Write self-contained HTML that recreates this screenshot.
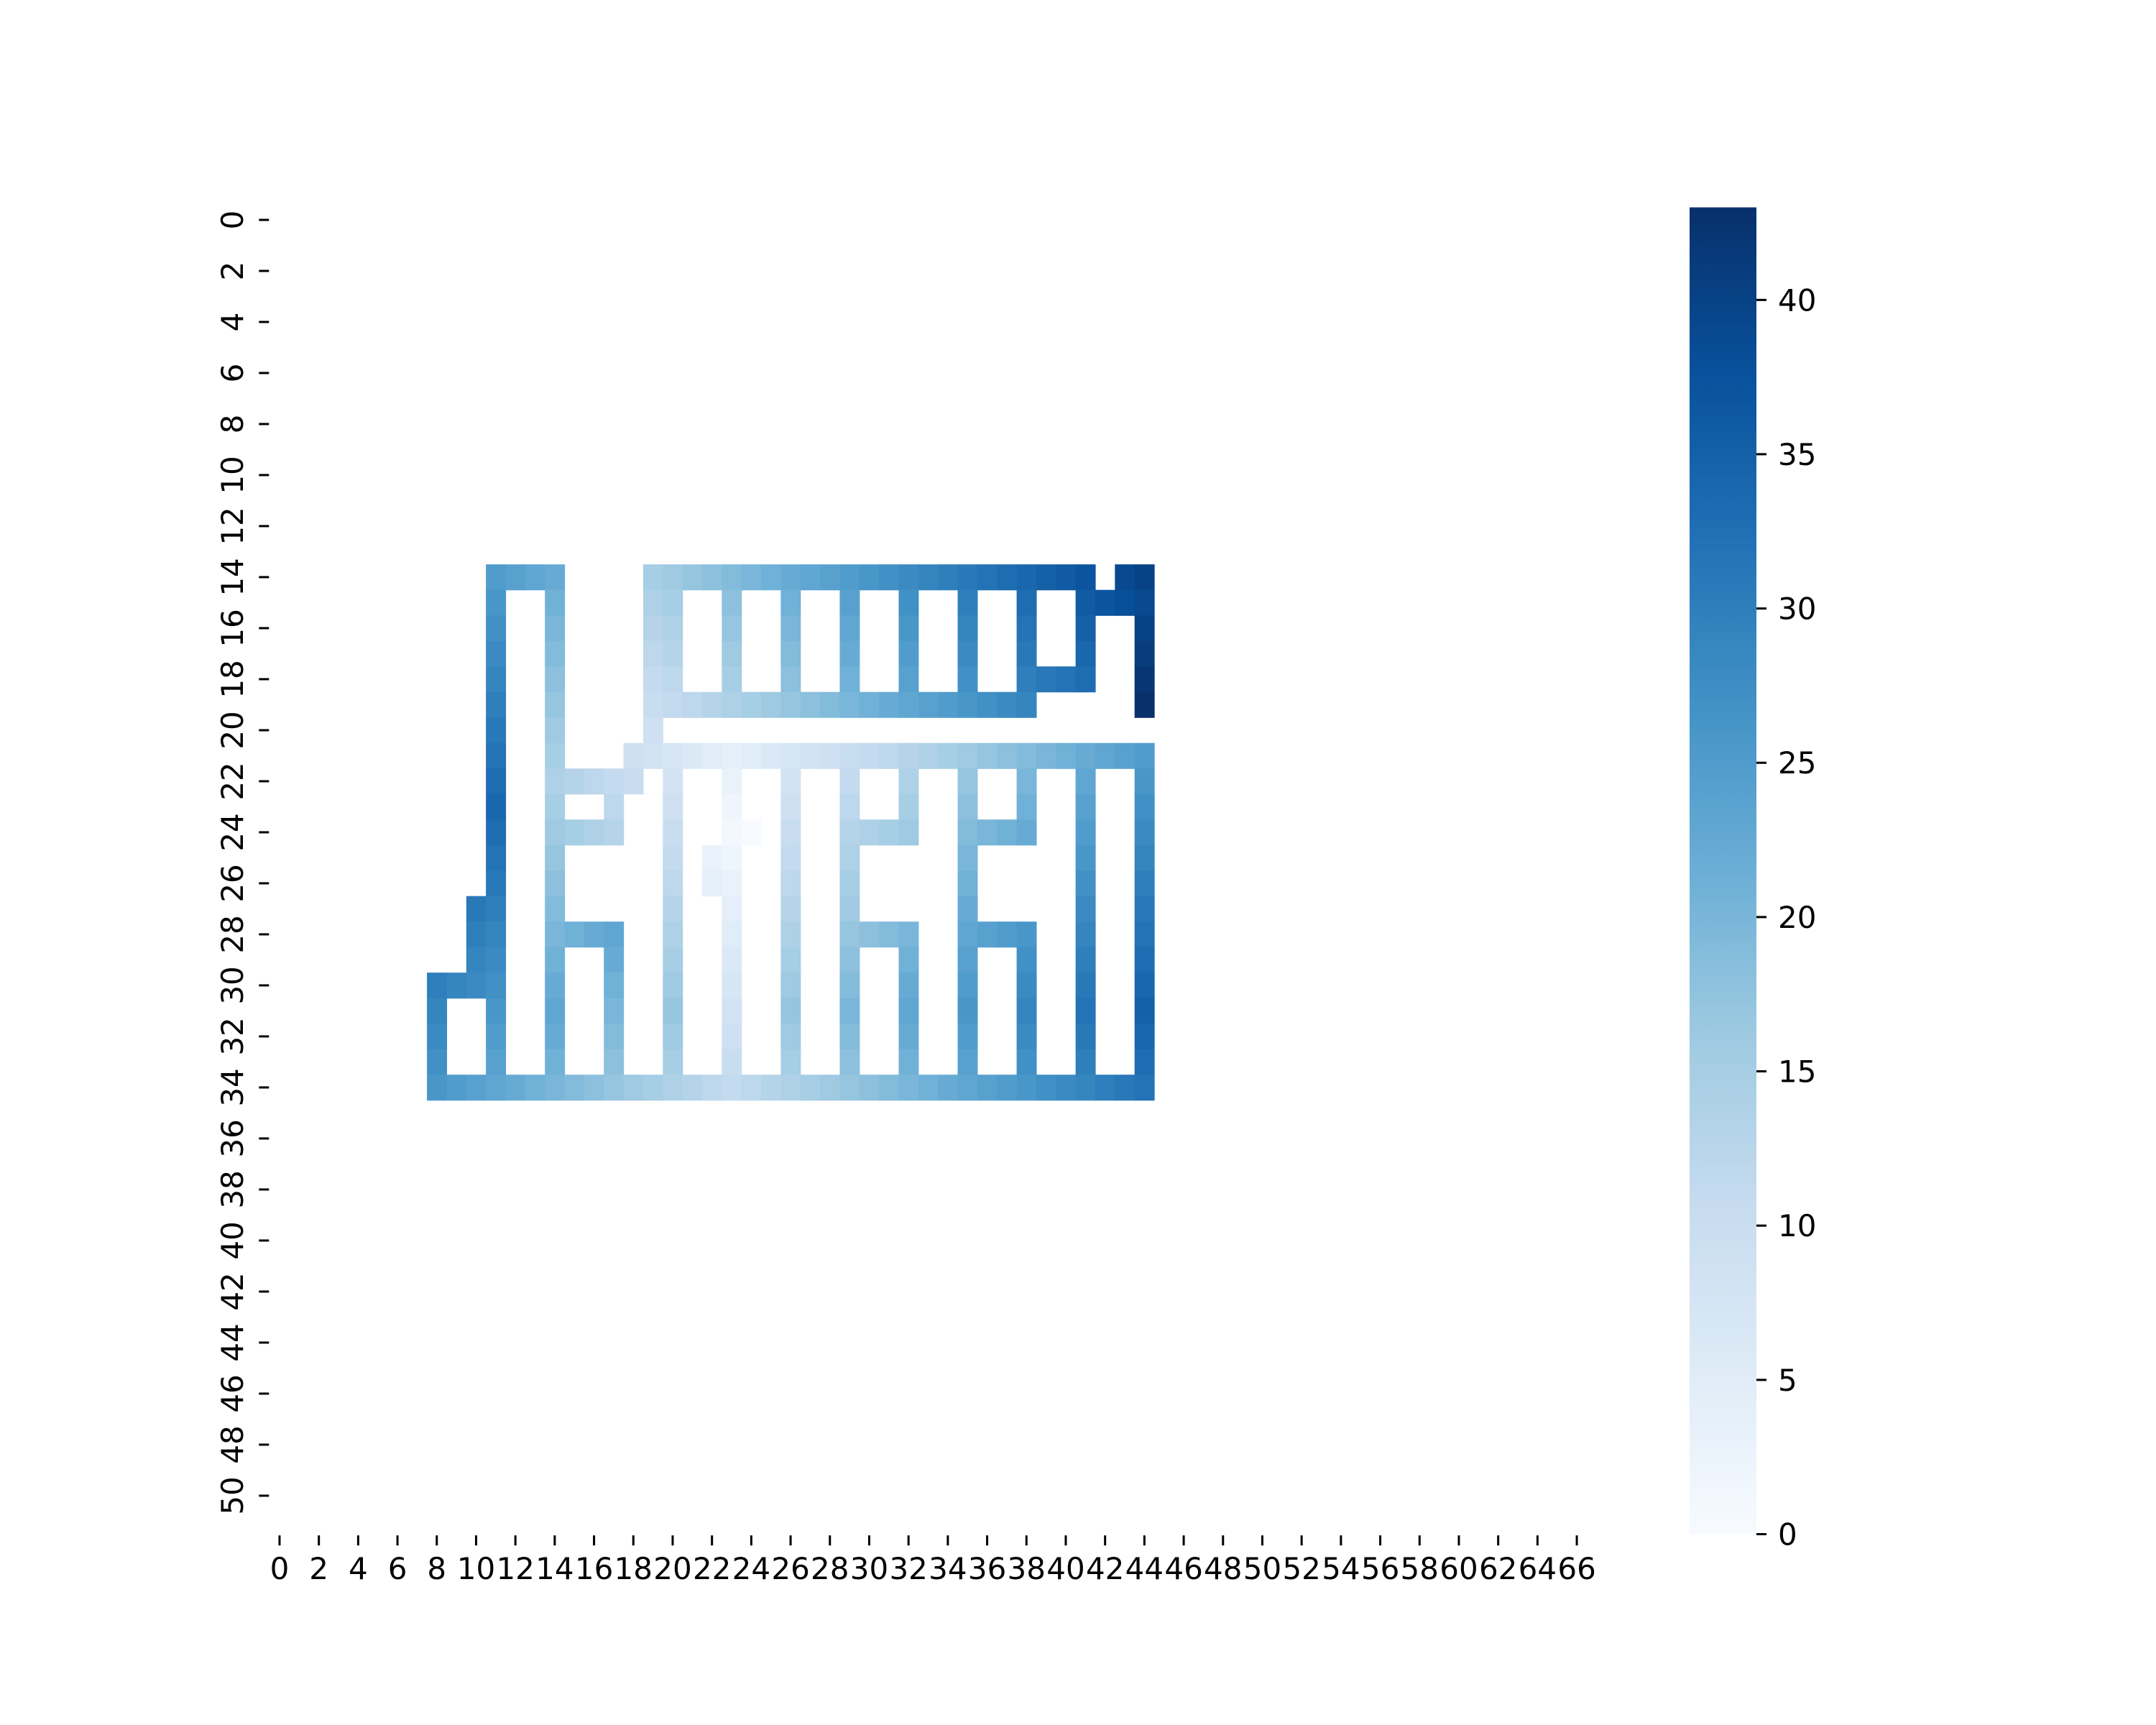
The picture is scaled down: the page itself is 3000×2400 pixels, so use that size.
<!DOCTYPE html>
<html>
<head>
<meta charset="utf-8">
<style>
  html,body{margin:0;padding:0;background:#fff;}
  svg{display:block;}
  text{font-family:"DejaVu Sans","Liberation Sans",sans-serif;font-size:42px;fill:#000;}
</style>
</head>
<body>
<svg id="chart" width="3000" height="2400" viewBox="0 0 3000 2400" xmlns="http://www.w3.org/2000/svg">
  <g id="cells"></g>
  <g id="xaxis"></g>
  <g id="yaxis"></g>
  <defs>
    <linearGradient id="cbgrad" x1="0" y1="1" x2="0" y2="0">
      <stop offset="0" stop-color="#f7fbff"/>
      <stop offset="0.125" stop-color="#deebf7"/>
      <stop offset="0.25" stop-color="#c6dbef"/>
      <stop offset="0.375" stop-color="#9ecae1"/>
      <stop offset="0.5" stop-color="#6baed6"/>
      <stop offset="0.625" stop-color="#4292c6"/>
      <stop offset="0.75" stop-color="#2171b5"/>
      <stop offset="0.875" stop-color="#08519c"/>
      <stop offset="1" stop-color="#08306b"/>
    </linearGradient>
  </defs>
  <rect x="2351" y="288.5" width="93" height="1846" fill="url(#cbgrad)"/>
  <g id="cbaxis"></g>
</svg>
<script>
const n = null;
const nRows = 52;
const nCols = 67;
const rowOffset = 14;
const colOffset = 8;
const vmin = 0;
const vmax = 43;
const xTickLabels = [0,2,4,6,8,10,12,14,16,18,20,22,24,26,28,30,32,34,36,38,40,42,44,46,48,50,52,54,56,58,60,62,64,66];
const yTickLabels = [0,2,4,6,8,10,12,14,16,18,20,22,24,26,28,30,32,34,36,38,40,42,44,46,48,50];
const cbTickLabels = [0,5,10,15,20,25,30,35,40];
// values for rows 14..34, columns 8..44
const valueRows = [
[n,n,n,25,24,23,22,n,n,n,n,15,16,17,18,19,20,21,22,23,24,25,26,27,28,29,30,31,32,33,34,35,36,37,n,39,40],
[n,n,n,26,n,n,21,n,n,n,n,14,15,n,n,18,n,n,21,n,n,24,n,n,27,n,n,30,n,n,33,n,n,36,37,38,39],
[n,n,n,27,n,n,20,n,n,n,n,13,14,n,n,17,n,n,20,n,n,23,n,n,26,n,n,29,n,n,32,n,n,35,n,n,40],
[n,n,n,28,n,n,19,n,n,n,n,12,13,n,n,16,n,n,19,n,n,22,n,n,25,n,n,28,n,n,31,n,n,34,n,n,41],
[n,n,n,29,n,n,18,n,n,n,n,11,12,n,n,15,n,n,18,n,n,21,n,n,24,n,n,27,n,n,30,31,32,33,n,n,42],
[n,n,n,30,n,n,17,n,n,n,n,10,11,12,13,14,15,16,17,18,19,20,21,22,23,24,25,26,27,28,29,n,n,n,n,n,43],
[n,n,n,31,n,n,16,n,n,n,n,9,n,n,n,n,n,n,n,n,n,n,n,n,n,n,n,n,n,n,n,n,n,n,n,n,n],
[n,n,n,32,n,n,15,n,n,n,9,8,7,6,5,4,5,6,7,8,9,10,11,12,13,14,15,16,17,18,19,20,21,22,23,24,25],
[n,n,n,33,n,n,14,13,12,11,10,n,8,n,n,3,n,n,8,n,n,11,n,n,14,n,n,17,n,n,20,n,n,23,n,n,26],
[n,n,n,34,n,n,15,n,n,12,n,n,9,n,n,2,n,n,9,n,n,12,n,n,15,n,n,18,n,n,21,n,n,24,n,n,27],
[n,n,n,33,n,n,16,15,14,13,n,n,10,n,n,1,0,n,10,n,n,13,14,15,16,n,n,19,20,21,22,n,n,25,n,n,28],
[n,n,n,32,n,n,17,n,n,n,n,n,11,n,3,2,n,n,11,n,n,14,n,n,n,n,n,20,n,n,n,n,n,26,n,n,29],
[n,n,n,31,n,n,18,n,n,n,n,n,12,n,4,3,n,n,12,n,n,15,n,n,n,n,n,21,n,n,n,n,n,27,n,n,30],
[n,n,31,30,n,n,19,n,n,n,n,n,13,n,n,4,n,n,13,n,n,16,n,n,n,n,n,22,n,n,n,n,n,28,n,n,31],
[n,n,30,29,n,n,20,21,22,23,n,n,14,n,n,5,n,n,14,n,n,17,18,19,20,n,n,23,24,25,26,n,n,29,n,n,32],
[n,n,29,28,n,n,21,n,n,22,n,n,15,n,n,6,n,n,15,n,n,18,n,n,21,n,n,24,n,n,27,n,n,30,n,n,33],
[30,29,28,27,n,n,22,n,n,21,n,n,16,n,n,7,n,n,16,n,n,19,n,n,22,n,n,25,n,n,28,n,n,31,n,n,34],
[29,n,n,26,n,n,23,n,n,20,n,n,17,n,n,8,n,n,17,n,n,20,n,n,23,n,n,26,n,n,29,n,n,32,n,n,35],
[28,n,n,25,n,n,22,n,n,19,n,n,16,n,n,9,n,n,16,n,n,19,n,n,22,n,n,25,n,n,28,n,n,31,n,n,34],
[27,n,n,24,n,n,21,n,n,18,n,n,15,n,n,10,n,n,15,n,n,18,n,n,21,n,n,24,n,n,27,n,n,30,n,n,33],
[26,25,24,23,22,21,20,19,18,17,16,15,14,13,12,11,12,13,14,15,16,17,18,19,20,21,22,23,24,25,26,27,28,29,30,31,32]
];

const NS = "http://www.w3.org/2000/svg";
const plotLeft = 375.3, plotTop = 288.2, cellW = 27.35, cellH = 35.5;
const cbTop = 288.5, cbBottom = 2134.5, cbRight = 2444;
function xScale(c){ return plotLeft + c * cellW; }
function yScale(r){ return plotTop + r * cellH; }
function cbScale(v){ return cbBottom - (v - vmin) / (vmax - vmin) * (cbBottom - cbTop); }
const stops = ["#f7fbff","#deebf7","#c6dbef","#9ecae1","#6baed6","#4292c6","#2171b5","#08519c","#08306b"];
function hex(h){ return [parseInt(h.substr(1,2),16),parseInt(h.substr(3,2),16),parseInt(h.substr(5,2),16)]; }
function colorFor(v){
  let t = Math.max(0, Math.min(1, (v - vmin) / (vmax - vmin))) * (stops.length - 1);
  let i = Math.min(Math.floor(t), stops.length - 2), f = t - i;
  let a = hex(stops[i]), b = hex(stops[i+1]);
  return "rgb(" + a.map((x,k)=>Math.round(x + (b[k]-x)*f)).join(",") + ")";
}
function mk(tag, attrs){ const e = document.createElementNS(NS, tag); for (const k in attrs) e.setAttribute(k, attrs[k]); return e; }

const cellsG = document.getElementById("cells");
valueRows.forEach((row, ri) => {
  row.forEach((v, ci) => {
    if (v === null) return;
    const r = ri + rowOffset, c = ci + colOffset;
    const rect = mk("rect", {x: xScale(c), y: yScale(r), width: cellW + 0.6, height: cellH + 0.6, fill: colorFor(v)});
    
    
    cellsG.appendChild(rect);
  });
});

const xG = document.getElementById("xaxis");
const axisBottom = yScale(nRows);
xTickLabels.forEach(t => {
  const cx = xScale(t + 0.5);
  const tick = mk("line", {x1: cx, x2: cx, y1: axisBottom + 2, y2: axisBottom + 16, stroke: "#000", "stroke-width": 3});
  
  
  xG.appendChild(tick);
  const lbl = mk("text", {x: cx, y: axisBottom + 63, "text-anchor": "middle"});
  lbl.textContent = String(t);
  
  
  xG.appendChild(lbl);
});

const yG = document.getElementById("yaxis");
yTickLabels.forEach(t => {
  const cy = yScale(t + 0.5);
  const tick = mk("line", {x1: plotLeft - 15, x2: plotLeft - 1, y1: cy, y2: cy, stroke: "#000", "stroke-width": 3});
  
  
  yG.appendChild(tick);
  const bx = 338;
  const lbl = mk("text", {x: bx, y: cy, "text-anchor": "middle", transform: "rotate(-90," + bx + "," + cy + ")"});
  lbl.textContent = String(t);
  
  
  yG.appendChild(lbl);
});

const cbG = document.getElementById("cbaxis");
cbTickLabels.forEach(t => {
  const cy = cbScale(t);
  const tick = mk("line", {x1: cbRight, x2: cbRight + 14, y1: cy, y2: cy, stroke: "#000", "stroke-width": 3});
  
  
  cbG.appendChild(tick);
  const lbl = mk("text", {x: cbRight + 30, y: cy + 15});
  lbl.textContent = String(t);
  
  
  cbG.appendChild(lbl);
});
</script>
</body>
</html>
